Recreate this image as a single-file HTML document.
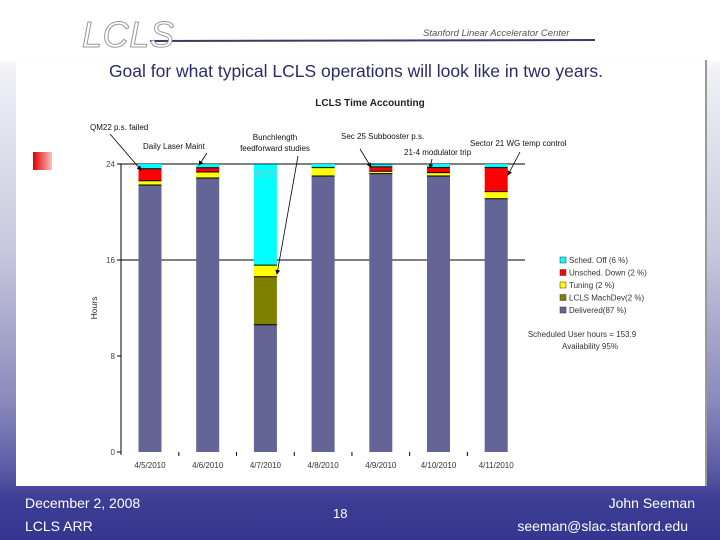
<!DOCTYPE html>
<html><head><meta charset="utf-8">
<style>
html,body{margin:0;padding:0}
body{width:720px;height:540px;position:relative;overflow:hidden;font-family:"Liberation Sans",sans-serif;
background:linear-gradient(to bottom,#ffffff 0px,#ffffff 58px,#f0f0f6 70px,#c8c8de 250px,#8a8abd 400px,#5a5aa6 470px,#3c3d95 500px,#35368f 540px);}
.abs{position:absolute}
.foot{position:absolute;color:#fff;font-size:14px;white-space:nowrap}
</style></head>
<body>
<div class="abs" style="left:0;top:0;width:720px;height:58px;background:#fff"></div>
<svg class="abs" style="left:0;top:0" width="720" height="60">
  <defs><linearGradient id="rb" x1="0" x2="1"><stop offset="0" stop-color="#d02040"/><stop offset="0.3" stop-color="#e0c020"/><stop offset="0.55" stop-color="#40b040"/><stop offset="0.8" stop-color="#30a0c0"/><stop offset="1" stop-color="#3a3a7a"/></linearGradient></defs>
  <line x1="80" y1="40" x2="160" y2="40" stroke="url(#rb)" stroke-width="3"/>
  <line x1="150" y1="41" x2="595" y2="40" stroke="#3a3a6e" stroke-width="2"/>
  <text x="82" y="47" font-size="36" font-style="italic" fill="#fff" stroke="#999" stroke-width="1" font-family="Liberation Sans, sans-serif" textLength="92">LCLS</text>
  <text x="423" y="36" font-size="9.5" font-style="italic" fill="#555">Stanford Linear Accelerator Center</text>
</svg>
<div class="abs" style="left:16px;top:60px;width:689px;height:426px;background:#fff;border-right:2px solid #999"></div>
<div class="abs" style="left:0;width:712px;top:61px;text-align:center;font-size:17.5px;color:#2b2b68">Goal for what typical LCLS operations will look like in two years.</div>
<div class="abs" style="left:33px;top:152px;width:19px;height:18px;background:linear-gradient(to right,#e00000,#f8c0c0)"></div>

<svg class="abs" id="chart" style="left:0;top:0" width="720" height="540"></svg>

<div class="foot" style="left:25px;top:495px">December 2, 2008</div>
<div class="foot" style="left:25px;top:518px">LCLS ARR</div>
<div class="foot" style="left:333px;top:506px;font-size:13px">18</div>
<div class="foot" style="right:25px;top:495px">John Seeman</div>
<div class="foot" style="right:32px;top:518px">seeman@slac.stanford.edu</div>

<script>
const categories=["4/5/2010","4/6/2010","4/7/2010","4/8/2010","4/9/2010","4/10/2010","4/11/2010"];
const delivered=[22.25,22.83,10.6,23.0,23.2,23.0,21.1];
const machDev=[0,0,4.0,0,0,0,0];
const tuning=[0.35,0.5,0.97,0.7,0.2,0.28,0.6];
const unschedDown=[1.0,0.36,0,0,0.36,0.42,2.0];
const schedOff=[0.4,0.3,8.4,0.3,0.2,0.3,0.3];
const yTicks=[0,8,16,24];
const yTickLabels=["0","8","16","24"];
const seriesNames=["Sched. Off (6 %)","Unsched. Down (2 %)","Tuning (2 %)","LCLS MachDev(2 %)","Delivered(87 %)"];

const NS="http://www.w3.org/2000/svg";
const svg=document.getElementById('chart');
const x0=121,y0=452,pxPerH=12,band=57.7,barW=23,plotRight=525;
const yS=v=>y0-v*pxPerH;
const xC=i=>x0+29+i*band;
function mk(tag,attrs,parent){const e=document.createElementNS(NS,tag);for(const k in attrs)e.setAttribute(k,attrs[k]);(parent||svg).appendChild(e);return e;}
function txt(x,y,s,size,anchor,extra){const t=mk('text',Object.assign({x:x,y:y,'font-size':size,'text-anchor':anchor||'start',fill:'#222','font-family':'Liberation Sans, sans-serif'},extra||{}));t.textContent=s;return t;}

let t=txt(370,106,"LCLS Time Accounting",10,'middle',{'font-weight':'bold'});



// gridlines at 16 and 24
[16,24].forEach(v=>{const l=mk('line',{x1:x0,x2:plotRight,y1:yS(v),y2:yS(v),stroke:'#000','stroke-width':1});

});

const stacks=[[delivered,'#646496'],[machDev,'#808000'],[tuning,'#ffff00'],[unschedDown,'#ff0000'],[schedOff,'#00ffff']];
const segNames=['delivered','machdev','tuning','unsched-down','sched-off'];
categories.forEach((c,i)=>{
  let base=0;
  stacks.forEach(([arr,col],k)=>{
    const v=arr[i]; if(v<=0) return;
    const r=mk('rect',{x:xC(i)-barW/2,y:yS(base+v),width:barW,height:v*pxPerH,fill:col});
    
    
    if(base>0){mk('line',{x1:xC(i)-barW/2,x2:xC(i)+barW/2,y1:yS(base),y2:yS(base),stroke:'#000','stroke-width':1});}
    base+=v;
  });
  const lb=txt(xC(i),468,c,8,'middle',{fill:'#333'});
  
  
  if(i>0){mk('line',{x1:xC(i)-band/2,x2:xC(i)-band/2,y1:y0,y2:y0+4,stroke:'#000'});}
});
let rod=txt(xC(2),177,"ROD",9,'middle',{fill:'#80c8c8'});



// y axis
const ya=mk('line',{x1:x0,x2:x0,y1:yS(24),y2:y0+3,stroke:'#000','stroke-width':1});


yTicks.forEach((v,i)=>{mk('line',{x1:x0-4,x2:x0,y1:yS(v),y2:yS(v),stroke:'#000'});
 const l=txt(x0-6,yS(v)+3,yTickLabels[i],8,'end',{fill:'#444'});
 
 });
const yt=txt(0,0,"Hours",8.5,'middle',{transform:'translate(97,308) rotate(-90)'});



// annotations
mk('defs',{}).innerHTML='<marker id="ah" markerWidth="6" markerHeight="6" refX="5" refY="3" orient="auto"><path d="M0,0L6,3L0,6z" fill="#000"/></marker>';
const ann=[
 [["QM22 p.s. failed"],90,130,'start',110,134,141,170],
 [["Daily Laser Maint"],143,149,'start',207,153,199,165],
 [["Bunchlength","feedforward studies"],275,140,'middle',298,156,277,274],
 [["Sec 25 Subbooster p.s."],341,139,'start',360,149,371,167],
 [["21-4 modulator trip"],404,155,'start',432,159,430,168],
 [["Sector 21 WG temp control"],470,146,'start',520,152,508,175]
];
ann.forEach(a=>{
  a[0].forEach((s,j)=>{const tt=txt(a[1],a[2]+j*11,s,8,a[3],{fill:'#111'});
   
   });
  const l=mk('line',{x1:a[4],y1:a[5],x2:a[6],y2:a[7],stroke:'#000','stroke-width':0.8,'marker-end':'url(#ah)'});
  
  
});

// legend
const legCols=['#00ffff','#ff0000','#ffff00','#808000','#646496'];
seriesNames.forEach((n,i)=>{
  const y=263+i*12.5;
  const g=mk('g',{});
  
  
  mk('rect',{x:560,y:y-6,width:6,height:6,fill:legCols[i],stroke:'#333','stroke-width':0.5},g);
  const tt=txt(569,y,n,8,'start',{fill:'#333'}); g.appendChild(tt);
});
let s1=txt(582,337,"Scheduled User hours = 153.9",8,'middle',{fill:'#333'});


let s2=txt(590,349,"Availability    95%",8,'middle',{fill:'#333'});


</script>
</body></html>
